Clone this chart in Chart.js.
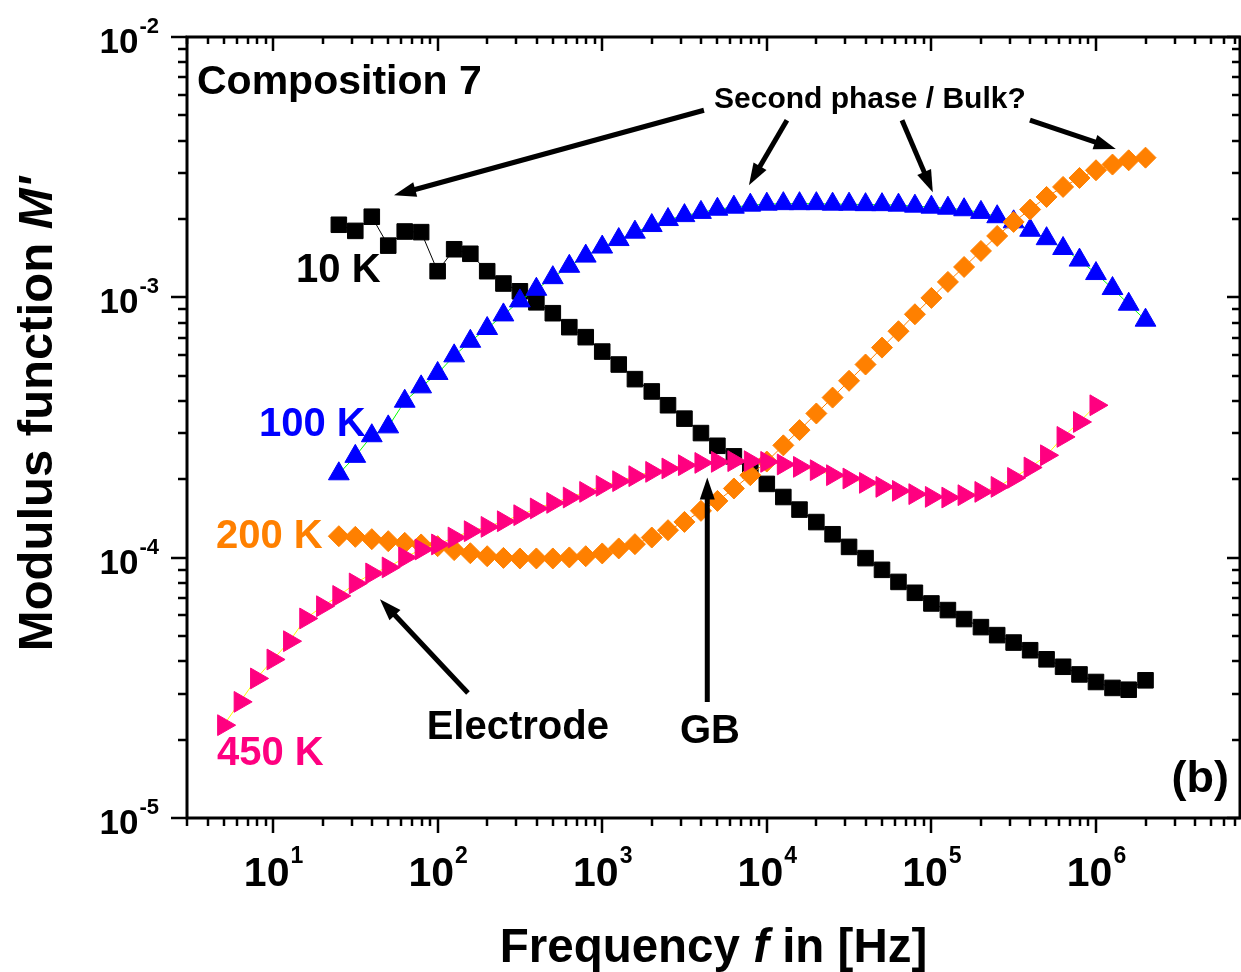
<!DOCTYPE html>
<html>
<head>
<meta charset="utf-8">
<script src="https://cdn.jsdelivr.net/npm/chart.js@4.4.0/dist/chart.umd.min.js"></script>
<style>
  body { margin: 0; background: #fff; }
  canvas { display: block; }
</style>
</head>
<body>
<canvas id="myChart" width="1241" height="972"></canvas>
<script>
// frequencies in Hz (10, 100, 200 K share one sweep, 450 K starts lower)
var freqMain = [25.1, 31.6, 39.8, 50.1, 63.1, 79.4, 100, 126, 158, 200,
    251, 316, 398, 501, 631, 794, 1000, 1260, 1580, 2000,
    2510, 3160, 3980, 5010, 6310, 7940, 1.0e4, 1.26e4, 1.58e4, 2.0e4,
    2.51e4, 3.16e4, 3.98e4, 5.01e4, 6.31e4, 7.94e4, 1.0e5, 1.26e5, 1.58e5, 2.0e5,
    2.51e5, 3.16e5, 3.98e5, 5.01e5, 6.31e5, 7.94e5, 1.0e6, 1.26e6, 1.58e6, 2.0e6]
var freq450 = [5.01, 6.31, 7.94, 10, 12.6, 15.8, 20, 25.1, 31.6, 39.8,
    50.1, 63.1, 79.4, 100, 126, 158, 200, 251, 316, 398,
    501, 631, 794, 1000, 1260, 1580, 2000, 2510, 3160, 3980,
    5010, 6310, 7940, 1.0e4, 1.26e4, 1.58e4, 2.0e4, 2.51e4, 3.16e4, 3.98e4,
    5.01e4, 6.31e4, 7.94e4, 1.0e5, 1.26e5, 1.58e5, 2.0e5, 2.51e5, 3.16e5, 3.98e5,
    5.01e5, 6.31e5, 7.94e5, 1.0e6]

// modulus M' values
var m10K = [1.90e-3, 1.80e-3, 2.04e-3, 1.58e-3, 1.79e-3, 1.78e-3, 1.26e-3, 1.53e-3, 1.47e-3, 1.26e-3,
    1.13e-3, 1.055e-3, 9.57e-4, 8.69e-4, 7.68e-4, 7.03e-4, 6.19e-4, 5.52e-4, 4.85e-4, 4.35e-4,
    3.85e-4, 3.42e-4, 3.01e-4, 2.69e-4, 2.45e-4, 2.17e-4, 1.92e-4, 1.71e-4, 1.53e-4, 1.37e-4,
    1.23e-4, 1.10e-4, 9.96e-5, 8.98e-5, 8.07e-5, 7.33e-5, 6.67e-5, 6.29e-5, 5.81e-5, 5.41e-5,
    5.04e-5, 4.72e-5, 4.41e-5, 4.07e-5, 3.81e-5, 3.56e-5, 3.33e-5, 3.16e-5, 3.11e-5, 3.38e-5]
var m100K = [2.10e-4, 2.45e-4, 2.94e-4, 3.18e-4, 3.99e-4, 4.53e-4, 5.10e-4, 5.96e-4, 6.78e-4, 7.59e-4,
    8.56e-4, 9.69e-4, 1.074e-3, 1.19e-3, 1.316e-3, 1.44e-3, 1.56e-3, 1.667e-3, 1.78e-3, 1.887e-3,
    1.99e-3, 2.06e-3, 2.12e-3, 2.18e-3, 2.22e-3, 2.26e-3, 2.28e-3, 2.29e-3, 2.29e-3, 2.29e-3,
    2.28e-3, 2.28e-3, 2.27e-3, 2.27e-3, 2.26e-3, 2.24e-3, 2.22e-3, 2.20e-3, 2.17e-3, 2.12e-3,
    2.04e-3, 1.95e-3, 1.81e-3, 1.68e-3, 1.54e-3, 1.39e-3, 1.234e-3, 1.081e-3, 9.41e-4, 8.17e-4]
var m200K = [1.209e-4, 1.202e-4, 1.178e-4, 1.157e-4, 1.14e-4, 1.124e-4, 1.107e-4, 1.069e-4, 1.04e-4, 1.013e-4,
    9.98e-5, 9.93e-5, 9.93e-5, 9.93e-5, 1.002e-4, 1.013e-4, 1.038e-4, 1.085e-4, 1.127e-4, 1.195e-4,
    1.275e-4, 1.372e-4, 1.513e-4, 1.652e-4, 1.844e-4, 2.074e-4, 2.34e-4, 2.70e-4, 3.09e-4, 3.58e-4,
    4.12e-4, 4.78e-4, 5.52e-4, 6.41e-4, 7.41e-4, 8.61e-4, 9.95e-4, 1.146e-3, 1.308e-3, 1.507e-3,
    1.721e-3, 1.948e-3, 2.174e-3, 2.43e-3, 2.655e-3, 2.874e-3, 3.077e-3, 3.236e-3, 3.36e-3, 3.44e-3]
var m450K = [2.273e-5, 2.793e-5, 3.436e-5, 4.064e-5, 4.777e-5, 5.84e-5, 6.51e-5, 7.13e-5, 7.96e-5, 8.70e-5,
    9.17e-5, 1.002e-4, 1.075e-4, 1.124e-4, 1.195e-4, 1.264e-4, 1.313e-4, 1.380e-4, 1.456e-4, 1.545e-4,
    1.623e-4, 1.702e-4, 1.789e-4, 1.887e-4, 1.967e-4, 2.056e-4, 2.136e-4, 2.201e-4, 2.266e-4, 2.312e-4,
    2.333e-4, 2.348e-4, 2.348e-4, 2.333e-4, 2.28e-4, 2.232e-4, 2.168e-4, 2.074e-4, 2.014e-4, 1.938e-4,
    1.87e-4, 1.805e-4, 1.754e-4, 1.712e-4, 1.702e-4, 1.738e-4, 1.789e-4, 1.87e-4, 2.025e-4, 2.22e-4,
    2.474e-4, 2.91e-4, 3.32e-4, 3.85e-4]

// tick labels (powers of ten)
var xTickExp = [1, 2, 3, 4, 5, 6]
var yTickExp = [-5, -4, -3, -2]

var FONT = '"Liberation Sans", Arial, sans-serif'

// annotation anchors in data coordinates [f1, M1, f2, M2] (arrow tip at f2, M2)
var arrows = [
    [4150, 5.23e-3, 54.3, 2.466e-3],
    [1.325e4, 4.79e-3, 7787, 2.694e-3],
    [6.63e4, 4.79e-3, 1.02e5, 2.533e-3],
    [3.97e5, 4.79e-3, 1.32e6, 3.71e-3],
    [152.8, 3.02e-5, 44.6, 6.93e-5],
    [4348, 2.79e-5, 4348, 2.03e-4]
]
var notes = [
    {text: 'Second phase / Bulk?', f: 4.23e4, m: 5.32e-3, align: 'center', size: 30, color: '#000'},
    {text: '10 K', f: 13.8, m: 1.143e-3, align: 'left', size: 40, color: '#000'},
    {text: '100 K', f: 8.21, m: 2.93e-4, align: 'left', size: 40, color: '#0000ff'},
    {text: '200 K', f: 4.5, m: 1.088e-4, align: 'left', size: 40, color: '#ff8000'},
    {text: '450 K', f: 4.565, m: 1.596e-5, align: 'left', size: 40, color: '#ff0080'},
    {text: 'Electrode', f: 85.8, m: 2.02e-5, align: 'left', size: 40, color: '#000'},
    {text: 'GB', f: 4513, m: 1.934e-5, align: 'center', size: 40, color: '#000'}
]

function toPoints(xs, ys) {
    return xs.map(function (x, i) { return {x: x, y: ys[i]} })
}

function drawArrow(ctx, x1, y1, x2, y2) {
    var ang = Math.atan2(y2 - y1, x2 - x1)
    var hl = 22, hw = 7.5
    var bx = x2 - hl * Math.cos(ang), by = y2 - hl * Math.sin(ang)
    ctx.lineWidth = 5
    ctx.beginPath()
    ctx.moveTo(x1, y1)
    ctx.lineTo(bx + 2 * Math.cos(ang), by + 2 * Math.sin(ang))
    ctx.stroke()
    ctx.beginPath()
    ctx.moveTo(x2, y2)
    ctx.lineTo(bx + hw * Math.sin(ang), by - hw * Math.cos(ang))
    ctx.lineTo(bx - hw * Math.sin(ang), by + hw * Math.cos(ang))
    ctx.closePath()
    ctx.fill()
}

// text made of normal and italic pieces
function drawRich(ctx, parts, x, y, size, align) {
    var total = 0
    parts.forEach(function (p) {
        ctx.font = (p.italic ? 'italic ' : '') + 'bold ' + size + 'px ' + FONT
        p.w = ctx.measureText(p.t).width
        total += p.w
    })
    var cx = align === 'center' ? x - total / 2 : x
    ctx.textAlign = 'left'
    parts.forEach(function (p) {
        ctx.font = (p.italic ? 'italic ' : '') + 'bold ' + size + 'px ' + FONT
        ctx.fillText(p.t, cx, y)
        cx += p.w
    })
}

var framePlugin = {
    id: 'frame',
    afterDatasetsDraw: function (chart) {
        var ctx = chart.ctx
        var a = chart.chartArea
        var xs = chart.scales.x, ys = chart.scales.y
        ctx.save()
        ctx.strokeStyle = '#000'
        ctx.fillStyle = '#000'
        ctx.lineCap = 'butt'

        // ticks on all four sides
        ctx.lineWidth = 2.5
        ctx.beginPath()
        for (var d = 0; d <= 6; d++) {
            for (var k = 1; k <= 9; k++) {
                var v = k * Math.pow(10, d)
                if (v < xs.min * 0.999 || v > xs.max * 1.001) continue
                var px = Math.round(xs.getPixelForValue(v))
                var major = k === 1
                ctx.moveTo(px, a.bottom)
                ctx.lineTo(px, a.bottom + (major ? 15 : 8))
                ctx.moveTo(px, a.top)
                ctx.lineTo(px, a.top + (major ? 14 : 7))
            }
        }
        for (var e = -5; e <= -3; e++) {
            for (var j = 1; j <= 10; j++) {
                var w = j * Math.pow(10, e)
                var py = Math.round(ys.getPixelForValue(w))
                var maj = j === 1 || j === 10
                ctx.moveTo(a.left, py)
                ctx.lineTo(a.left - (maj ? 16 : 9), py)
                ctx.moveTo(a.right, py)
                ctx.lineTo(a.right - (maj ? 13 : 8), py)
            }
        }
        ctx.stroke()

        // frame
        ctx.lineWidth = 3
        ctx.strokeRect(a.left, a.top, a.right - a.left, a.bottom - a.top)

        // x tick labels 10^n
        ctx.textBaseline = 'alphabetic'
        xTickExp.forEach(function (n) {
            var px = xs.getPixelForValue(Math.pow(10, n))
            ctx.font = 'bold 41px ' + FONT
            var w1 = ctx.measureText('10').width
            ctx.font = 'bold 23px ' + FONT
            var w2 = ctx.measureText(String(n)).width
            var x0 = px - (w1 + w2) / 2
            ctx.textAlign = 'left'
            ctx.font = 'bold 41px ' + FONT
            ctx.fillText('10', x0, a.bottom + 68)
            ctx.font = 'bold 23px ' + FONT
            ctx.fillText(String(n), x0 + w1 + 1, a.bottom + 45)
        })

        // y tick labels 10^-n
        yTickExp.forEach(function (n) {
            var py = ys.getPixelForValue(Math.pow(10, n))
            var right = a.left - 28
            ctx.font = 'bold 22px ' + FONT
            var w2 = ctx.measureText(String(n)).width
            ctx.textAlign = 'right'
            ctx.fillText(String(n), right, py - 4)
            ctx.font = 'bold 35px ' + FONT
            ctx.fillText('10', right - w2 - 1, py + 16)
        })

        // axis titles
        drawRich(ctx, [{t: 'Frequency '}, {t: 'f', italic: true}, {t: ' in [Hz]'}],
            (a.left + a.right) / 2, 962, 47.5, 'center')
        ctx.save()
        ctx.translate(52, 414)
        ctx.rotate(-Math.PI / 2)
        drawRich(ctx, [{t: 'Modulus function '}, {t: "M'", italic: true}], 0, 0, 49, 'center')
        ctx.restore()

        // arrows
        arrows.forEach(function (r) {
            drawArrow(ctx, xs.getPixelForValue(r[0]), ys.getPixelForValue(r[1]),
                xs.getPixelForValue(r[2]), ys.getPixelForValue(r[3]))
        })

        // text notes
        notes.forEach(function (n) {
            ctx.fillStyle = n.color
            ctx.font = 'bold ' + n.size + 'px ' + FONT
            ctx.textAlign = n.align
            ctx.fillText(n.text, xs.getPixelForValue(n.f), ys.getPixelForValue(n.m))
        })
        ctx.fillStyle = '#000'
        ctx.font = 'bold 41px ' + FONT
        ctx.textAlign = 'left'
        ctx.fillText('Composition 7', a.left + 10, a.top + 57)
        ctx.font = 'bold 45px ' + FONT
        ctx.textAlign = 'right'
        ctx.fillText('(b)', a.right - 11, a.bottom - 26)

        ctx.restore()
    }
}

var ctx = document.getElementById('myChart').getContext('2d')

var data = {
    datasets: [
        {
            label: '450 K',
            data: toPoints(freq450, m450K),
            showLine: true,
            borderColor: '#ffff00',
            borderWidth: 1,
            pointStyle: 'triangle',
            rotation: 90,
            pointRadius: 12,
            pointBackgroundColor: '#ff0080',
            pointBorderColor: '#ff0080',
            pointBorderWidth: 1
        },
        {
            label: '200 K',
            data: toPoints(freqMain, m200K),
            showLine: true,
            borderColor: '#ff8000',
            borderWidth: 1,
            pointStyle: 'rectRot',
            pointRadius: 10.5,
            pointBackgroundColor: '#ff8000',
            pointBorderColor: '#ff8000',
            pointBorderWidth: 1
        },
        {
            label: '100 K',
            data: toPoints(freqMain, m100K),
            showLine: true,
            borderColor: '#00ff00',
            borderWidth: 1,
            pointStyle: 'triangle',
            pointRadius: 12,
            pointBackgroundColor: '#0000ff',
            pointBorderColor: '#0000ff',
            pointBorderWidth: 1
        },
        {
            label: '10 K',
            data: toPoints(freqMain, m10K),
            showLine: true,
            borderColor: '#000000',
            borderWidth: 1,
            pointStyle: 'rect',
            pointRadius: 11,
            pointBackgroundColor: '#000000',
            pointBorderColor: '#000000',
            pointBorderWidth: 1
        }
    ]
}

var config = {
    type: 'scatter',
    data: data,
    options: {
        responsive: false,
        animation: false,
        layout: {
            autoPadding: false,
            padding: {left: 187, top: 37, right: 1, bottom: 154}
        },
        plugins: {
            legend: {display: false},
            tooltip: {enabled: false}
        },
        scales: {
            x: {type: 'logarithmic', min: 3, max: 7.5e6, display: false, bounds: 'data'},
            y: {type: 'logarithmic', min: 1e-5, max: 1e-2, display: false, bounds: 'data'}
        }
    },
    plugins: [framePlugin]
}

var myChart = new Chart(ctx, config)
</script>
</body>
</html>
